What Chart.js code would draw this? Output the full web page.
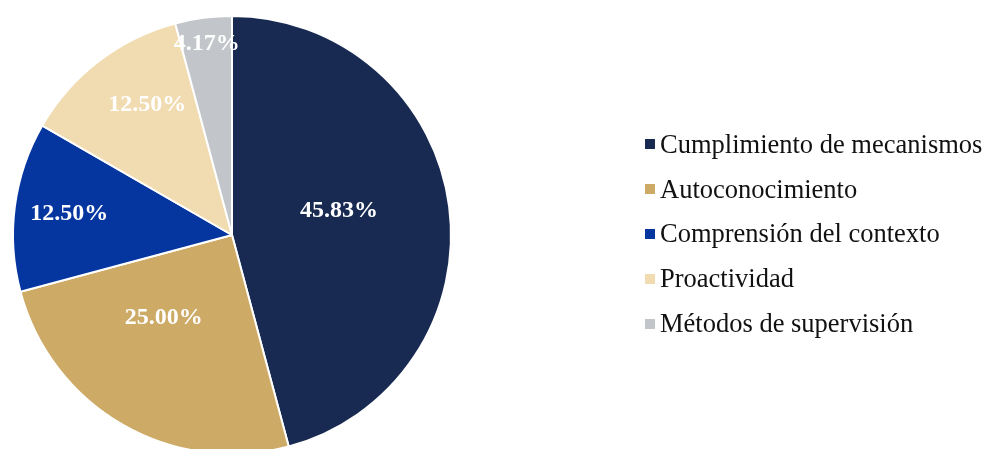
<!DOCTYPE html>
<html>
<head>
<meta charset="utf-8">
<script src="https://cdn.jsdelivr.net/npm/chart.js@4.4.1/dist/chart.umd.min.js"></script>
<style>
    html, body { margin: 0; padding: 0; background: #fff; overflow: hidden; }
    #wrap { position: relative; width: 987px; height: 449px; }
    #pieChart { position: absolute; left: 0; top: 0; }
    #legend { position: absolute; left: 645px; top: 122px; font-family: "Liberation Serif", "Times New Roman", serif; font-size: 26.5px; color: #111; }
    .legend-row { height: 44.8px; display: flex; align-items: center; white-space: nowrap; }
    .legend-box { width: 10px; height: 10px; margin-right: 5px; flex: none; }
</style>
</head>
<body>
<div id="wrap">
    <canvas id="pieChart" width="987" height="470" style="width:987px;height:470px"></canvas>
    <div id="legend"></div>
</div>
<script>
const categories = [
    'Cumplimiento de mecanismos',
    'Autoconocimiento',
    'Comprensión del contexto',
    'Proactividad',
    'Métodos de supervisión'
];
const percentages = [45.83, 25.00, 12.50, 12.50, 4.17];
const sliceColors = ['#182a52', '#cdaa66', '#0536a0', '#f1dbb0', '#c2c5c9'];

// label placement: fraction of radius, and a small angular nudge (degrees)
const labelRadius = [0.50, 0.49, 0.75, 0.71, 0.88];
const labelNudge = [-5, 9.5, 0, 4.5, 0];

const sliceLabels = {
    id: 'sliceLabels',
    afterDatasetsDraw(chart) {
        const ctx = chart.ctx;
        const meta = chart.getDatasetMeta(0);
        ctx.save();
        ctx.fillStyle = '#ffffff';
        ctx.font = 'bold 24px "Liberation Serif", "Times New Roman", serif';
        ctx.textAlign = 'center';
        ctx.textBaseline = 'middle';
        meta.data.forEach((arc, i) => {
            const p = arc.getProps(['x', 'y', 'startAngle', 'endAngle', 'outerRadius']);
            const mid = (p.startAngle + p.endAngle) / 2 + labelNudge[i] * Math.PI / 180;
            const r = p.outerRadius * labelRadius[i];
            const x = p.x + Math.cos(mid) * r;
            const y = p.y + Math.sin(mid) * r;
            ctx.fillText(percentages[i].toFixed(2) + '%', x, y);
        });
        ctx.restore();
    }
};

new Chart(document.getElementById('pieChart').getContext('2d'), {
    type: 'pie',
    data: {
        labels: categories,
        datasets: [{
            data: percentages,
            backgroundColor: sliceColors,
            borderColor: '#ffffff',
            borderWidth: 2
        }]
    },
    options: {
        responsive: false,
        animation: false,
        layout: { padding: { left: 12, top: 15, right: 535, bottom: 15 } },
        plugins: {
            legend: { display: false },
            tooltip: { enabled: false }
        }
    },
    plugins: [sliceLabels]
});

// legend on the right
const legend = document.getElementById('legend');
categories.forEach((name, i) => {
    const row = document.createElement('div');
    row.className = 'legend-row';
    row.innerHTML = `<span class="legend-box" style="background:${sliceColors[i]}"></span><span>${name}</span>`;
    legend.appendChild(row);
});
</script>
</body>
</html>
